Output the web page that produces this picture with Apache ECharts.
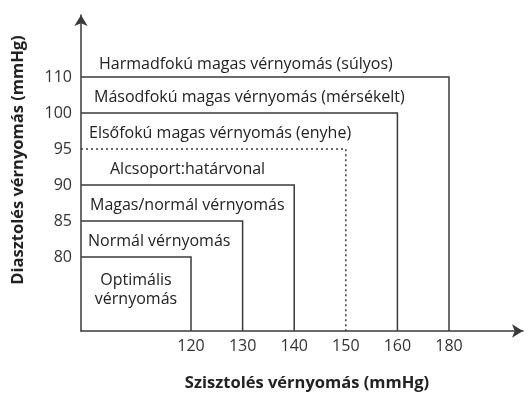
<!DOCTYPE html>
<html>
<head>
<meta charset="utf-8">
<script src="https://cdn.jsdelivr.net/npm/echarts@6/dist/echarts.min.js"></script>
<style>html,body{margin:0;padding:0;background:#fff}#c{width:529px;height:393px}</style>
</head>
<body>
<div id="c"></div>
<script>
// Tick labels (evenly spaced on the axes, as in the reference)
const xTicks = [120, 130, 140, 150, 160, 180];
const yTicks = [80, 85, 90, 95, 100, 110];
// Categories (from smallest box to the top band)
const categories = [
  'Optimális\nvérnyomás',
  'Normál vérnyomás',
  'Magas/normál vérnyomás',
  'Alcsoport:határvonal',
  'Elsőfokú magas vérnyomás (enyhe)',
  'Másodfokú magas vérnyomás (mérsékelt)',
  'Harmadfokú magas vérnyomás (súlyos)'
];
// Upper limits of each box (systolic, diastolic); last category is open
const boxSystolic = [120, 130, 140, 150, 160, 180, null];
const boxDiastolic = [80, 85, 90, 95, 100, 110, null];

// ---- styling / layout (not data) ----
const dashedBox = [false, false, false, true, false, false, false];
const labelIndent = [0, 7, 9, 29, 8, 13, 18];
const FONT = '"Open Sans", "Noto Sans", sans-serif';
const LINE = '#3a3a3a';
const X_MIN = -2.132, X_MAX = 6.434;
const Y_MIN = -2.056, Y_MAX = 6.722;

const xi = v => xTicks.indexOf(v);
const yi = v => yTicks.indexOf(v);

const boxData = categories.map((c, i) => [i]);

const chart = echarts.init(document.getElementById('c'), null, {renderer: 'canvas'});
chart.setOption({
  animation: false,
  backgroundColor: '#fff',
  grid: {left: 81, right: 6, top: 15, bottom: 62, containLabel: false, outerBoundsMode: 'none'},
  xAxis: {
    type: 'value', min: X_MIN, max: X_MAX,
    name: 'Szisztolés vérnyomás (mmHg)',
    nameLocation: 'middle', nameGap: 44, nameMoveOverlap: false,
    nameTextStyle: {fontFamily: FONT, fontWeight: 'bold', fontSize: 16.5, color: '#222', padding: [0, 0, 0, 10]},
    axisLine: {show: true, onZero: false, symbol: ['none', 'arrow'], symbolSize: [10, 11], lineStyle: {color: LINE, width: 1.5}},
    axisTick: {show: false},
    splitLine: {show: false},
    axisLabel: {
      customValues: xTicks.map((v, i) => i),
      formatter: v => { const k = Math.round(v); return xTicks[k] !== undefined ? String(xTicks[k]) : ''; },
      fontFamily: FONT, fontSize: 16, color: '#333', margin: 7
    }
  },
  yAxis: {
    type: 'value', min: Y_MIN, max: Y_MAX,
    name: 'Diasztolés vérnyomás (mmHg)',
    nameLocation: 'middle', nameGap: 54, nameRotate: 90, nameMoveOverlap: false,
    nameTextStyle: {fontFamily: FONT, fontWeight: 'bold', fontSize: 16.5, color: '#222', padding: [0, 0, 0, 26]},
    axisLine: {show: true, onZero: false, symbol: ['none', 'arrow'], symbolSize: [10, 11], lineStyle: {color: LINE, width: 1.5}},
    axisTick: {show: false},
    splitLine: {show: false},
    axisLabel: {
      customValues: yTicks.map((v, i) => i),
      formatter: v => { const k = Math.round(v); return yTicks[k] !== undefined ? String(yTicks[k]) : ''; },
      fontFamily: FONT, fontSize: 16, color: '#333', margin: 9
    }
  },
  series: [{
    type: 'custom',
    coordinateSystem: 'cartesian2d',
    data: boxData,
    clip: false,
    renderItem: function (params, api) {
      const i = api.value(0);
      const children = [];
      const sx = boxSystolic[i], dy = boxDiastolic[i];
      if (sx !== null) {
        const p0 = api.coord([X_MIN, yi(dy)]);
        const p1 = api.coord([xi(sx), yi(dy)]);
        const p2 = api.coord([xi(sx), Y_MIN]);
        children.push({
          type: 'polyline',
          shape: {points: [p0, p1, p2]},
          style: {stroke: LINE, lineWidth: 1.5, fill: null, lineDash: dashedBox[i] ? [2, 3] : null}
        });
      }
      // label
      if (i === 0) {
        const a = api.coord([X_MIN, yi(boxDiastolic[0])]);
        const b = api.coord([xi(boxSystolic[0]), Y_MIN]);
        children.push({
          type: 'text',
          style: {text: categories[i], x: (a[0] + b[0]) / 2, y: (a[1] + b[1]) / 2 - 4,
            align: 'center', verticalAlign: 'middle', lineHeight: 19,
            font: '16px ' + FONT, fill: '#222'}
        });
      } else {
        const lo = yi(boxDiastolic[i - 1]);
        const hi = dy !== null ? yi(dy) : lo + 0.8;
        const p = api.coord([X_MIN, (lo + hi) / 2]);
        children.push({
          type: 'text',
          style: {text: categories[i], x: p[0] + labelIndent[i], y: p[1] + 2,
            align: 'left', verticalAlign: 'middle',
            font: '16px ' + FONT, fill: '#222'}
        });
      }
      return {type: 'group', children: children};
    }
  }]
});
</script>
</body>
</html>
